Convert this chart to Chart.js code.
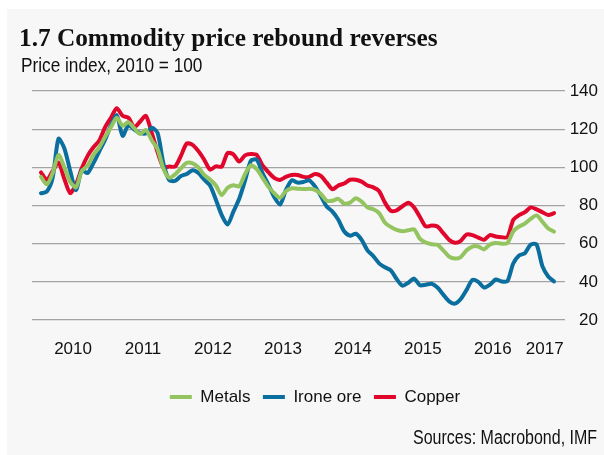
<!DOCTYPE html>
<html>
<head>
<meta charset="utf-8">
<script src="https://cdn.jsdelivr.net/npm/chart.js@4.4.1/dist/chart.umd.min.js"></script>
<style>
  html, body { margin: 0; padding: 0; background: #fff; }
  #panel { position: absolute; left: 7px; top: 9px; width: 597px; height: 446px; background: #f7f7f7; }
  #myChart { position: absolute; left: 0; top: 0; }
  .txt { position: absolute; white-space: nowrap; color: #111; }
  #title { left: 19px; top: 25px; font: bold 25.3px/25px "Liberation Serif", serif; }
  #subtitle { left: 21px; top: 54px; font: 21px/21px "Liberation Sans", Arial, sans-serif;
    transform: scaleX(0.82); transform-origin: left top; }
  #source { right: 7px; top: 427px; font: 20px/21px "Liberation Sans", Arial, sans-serif;
    transform: scaleX(0.8); transform-origin: right top; }
</style>
</head>
<body>
<div id="panel"></div>
<canvas id="myChart" width="604" height="455"></canvas>
<div class="txt" id="title">1.7 Commodity price rebound reverses</div>
<div class="txt" id="subtitle">Price index, 2010 = 100</div>
<div class="txt" id="source">Sources: Macrobond, IMF</div>
<script>
// monthly, Jan 2010 - May 2017
var metals = [95, 91, 97, 106.5, 100, 92.5, 89.5, 98, 101, 106.5, 110.5, 116,
  121, 126, 121.8, 123.7, 120.5, 117.5, 119.6, 114.2, 109.5, 99.3, 94.5, 96.3,
  99.5, 102.3, 102.1, 100, 96, 93.6, 90.5, 85.5, 89.3, 90.6, 90, 96.5,
  101, 99, 94.5, 89.9, 86.5, 84, 87.5, 89, 88.8, 88.6, 88.8, 88.2,
  86, 82.5, 82.5, 83.5, 81, 81.5, 83.8, 82, 79, 78, 76, 71,
  68.8, 67.2, 66.5, 67, 67.5, 62.5, 60.6, 59.7, 59.4, 56.5, 53.2, 52.2,
  53, 56.5, 58.5, 58.5, 57, 59.6, 60.4, 60, 60.3, 66.5, 69, 70.5,
  73, 74.8, 71.5, 68, 66.3];

var ironOre = [86.4, 87.3, 94.5, 115, 110, 98.3, 88, 98.5, 97, 102.2, 108.4, 114.5,
  122, 127.3, 116.5, 122, 119.8, 118, 117.7, 120.8, 118, 102, 93.3, 92.9,
  95.4, 96.5, 98.5, 97, 93.5, 90.5, 83, 75, 70, 76.8, 83.5, 93,
  103.5, 104, 97, 91, 84.5, 80.5, 88, 93.2, 92, 92.3, 93.2, 90,
  85, 79.5, 76.8, 72.5, 66.5, 64.2, 65.2, 62, 56.5, 53.5, 49.7, 47.6,
  46, 41.5, 38, 39.5, 41.7, 38.2, 38.5, 39, 37, 33.3, 29.8, 28.6,
  31, 35.8, 41, 40, 37, 38.5, 41.2, 40.2, 40.3, 49.6, 53.8, 55,
  59.5, 59.6, 48.2, 42.8, 40.2];

var copper = [97.3, 93.5, 98, 102.5, 94, 86.5, 91, 99.5, 106, 110.5, 114, 121,
  126, 131, 127, 126, 121, 124, 127, 118, 108, 100, 100.4, 100.4,
  106, 112.5, 111.8, 108.5, 104, 98.8, 100.5, 100.4, 107.5, 106.8, 103, 106.3,
  107, 106.5, 101, 97.5, 94.5, 93.4, 95, 96, 96, 95, 95, 96.5,
  95.5, 92, 88.5, 90.5, 91.5, 93.5, 93.5, 92.5, 90.5, 89.5, 87.5, 81.5,
  77.2, 77.5, 79.6, 81.5, 79, 74, 69, 69.5, 69, 65.5, 62, 60.5,
  61.5, 64.8, 64.5, 63.2, 62, 64.5, 63.8, 63.4, 63.4, 72.4, 75, 76.5,
  79, 78, 76.5, 75, 76];

// year labels sit mid-year (month index), 2017 pulled in
var yearTicks = [5.5, 17.5, 29.5, 41.5, 53.5, 65.5, 77.5, 86.4];
var yearLabels = ["2010", "2011", "2012", "2013", "2014", "2015", "2016", "2017"];

var GREEN = "#93c460";
var BLUE = "#0a6e9e";
var RED = "#e1062c";
var SANS = "'Liberation Sans', Arial, sans-serif";

function toPoints(values) {
  return values.map(function (v, i) { return { x: i, y: v }; });
}

function lineSet(label, values, color) {
  return {
    label: label,
    data: toPoints(values),
    borderColor: color,
    backgroundColor: color,
    borderWidth: 4,
    pointRadius: 0,
    pointHoverRadius: 0,
    tension: 0.25,
    borderJoinStyle: "round",
    borderCapStyle: "round",
    fill: false
  };
}

var ctx = document.getElementById("myChart").getContext("2d");

var myChart = new Chart(ctx, {
  type: "line",
  data: {
    datasets: [
      lineSet("Metals", metals, GREEN),
      lineSet("Irone ore", ironOre, BLUE),
      lineSet("Copper", copper, RED)
    ]
  },
  options: {
    responsive: false,
    animation: false,
    layout: { padding: { left: 32, right: 6, top: 91, bottom: 39.5 } },
    plugins: {
      tooltip: { enabled: false },
      legend: {
        position: "bottom",
        labels: {
          usePointStyle: true,
          pointStyle: "line",
          pointStyleWidth: 22,
          padding: 12.5,
          color: "#111",
          font: { family: SANS, size: 17 }
        }
      }
    },
    scales: {
      x: {
        type: "linear",
        min: -1.54,
        max: 89.88,
        grid: { display: false, drawTicks: false },
        border: { display: false },
        afterBuildTicks: function (scale) {
          scale.ticks = yearTicks.map(function (v) { return { value: v }; });
        },
        afterFit: function (scale) { scale.height = 56; },
        ticks: {
          padding: 19,
          maxRotation: 0,
          autoSkip: false,
          color: "#111",
          font: { family: SANS, size: 17 },
          callback: function (value) {
            var k = yearTicks.indexOf(value);
            return k >= 0 ? yearLabels[k] : "";
          }
        }
      },
      y: {
        position: "right",
        min: 20,
        max: 140,
        grid: { color: "#a3a3a3", lineWidth: 1.3, drawTicks: false },
        border: { display: false },
        afterFit: function (scale) { scale.width = 33; },
        ticks: {
          stepSize: 20,
          padding: 8,
          crossAlign: "far",
          color: "#111",
          font: { family: SANS, size: 17 }
        }
      }
    }
  }
});
</script>
</body>
</html>
